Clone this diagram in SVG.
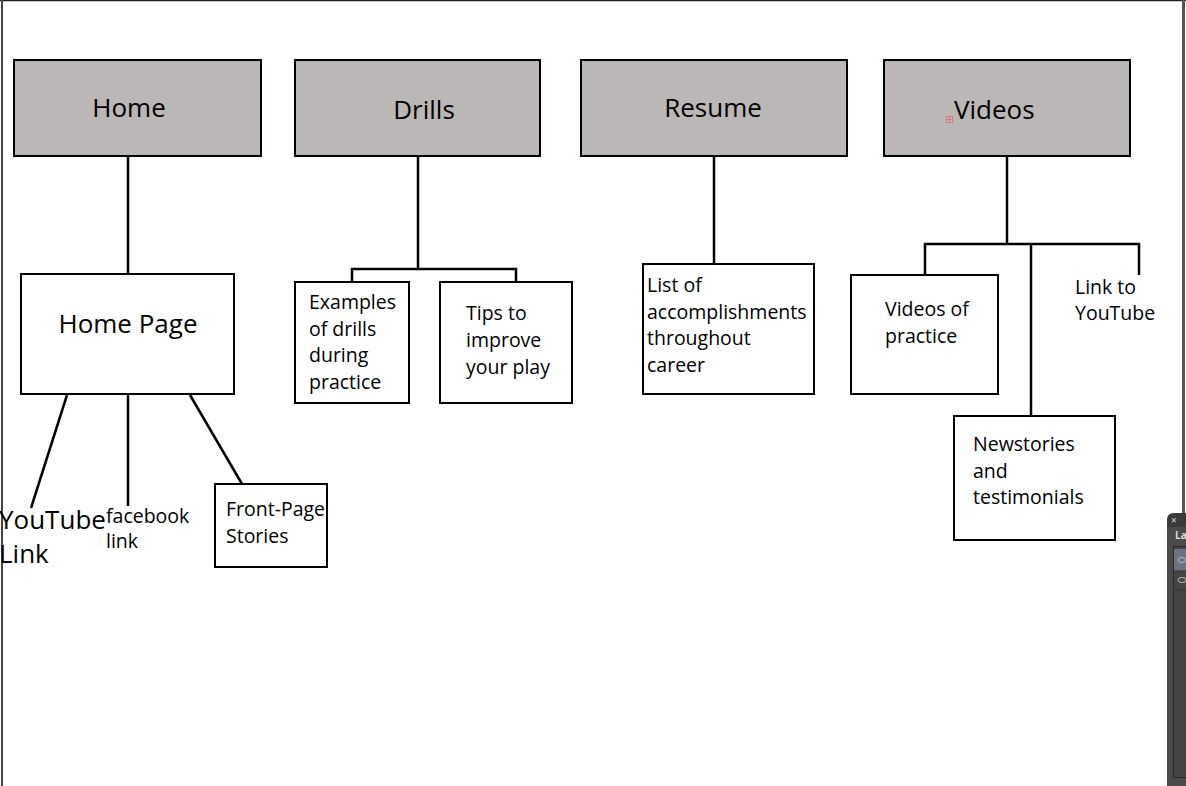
<svg xmlns="http://www.w3.org/2000/svg" width="1186" height="786" viewBox="0 0 1186 786">
<style>
.top{fill:#bbb7b6;stroke:#000;stroke-width:2}
.box{fill:#fff;stroke:#000;stroke-width:2}
.ln{stroke:#000;stroke-width:2.5;fill:none}
text{font-family:"Open Sans","Noto Sans",sans-serif;fill:#000}
.t1{font-size:26px}
.t2{font-size:19.5px}
</style>
<rect x="0" y="0" width="1186" height="786" fill="#fff"/>
<line x1="0" y1="0.5" x2="1186" y2="0.5" stroke="#222" stroke-width="1.5"/>
<line x1="2" y1="0" x2="2" y2="786" stroke="#444" stroke-width="2"/>
<rect x="1182" y="0" width="3" height="513" fill="#555"/>

<g id="connectors">
<line class="ln" x1="128" y1="156" x2="128" y2="274"/>
<line class="ln" x1="67" y1="395" x2="31" y2="508"/>
<line class="ln" x1="128" y1="395" x2="128" y2="506"/>
<line class="ln" x1="190" y1="395" x2="242" y2="484"/>
<polyline class="ln" points="418,156 418,269"/>
<polyline class="ln" points="352,282 352,269 516,269 516,282"/>
<line class="ln" x1="714" y1="156" x2="714" y2="264"/>
<line class="ln" x1="1007" y1="156" x2="1007" y2="244"/>
<polyline class="ln" points="925,275 925,244 1139,244 1139,275"/>
<line class="ln" x1="1031" y1="244" x2="1031" y2="416"/>
</g>

<g id="home"><rect class="top" x="14" y="60" width="247" height="96"/><text class="t1" x="129" y="117" text-anchor="middle">Home</text></g>
<g id="drills"><rect class="top" x="295" y="60" width="245" height="96"/><text class="t1" x="424" y="119" text-anchor="middle">Drills</text></g>
<g id="resume"><rect class="top" x="581" y="60" width="266" height="96"/><text class="t1" x="713" y="117" text-anchor="middle">Resume</text></g>
<g id="videos"><rect class="top" x="884" y="60" width="246" height="96"/><text class="t1" x="954" y="119">Videos</text>
<rect x="946.5" y="116.5" width="6" height="6" fill="none" stroke="#d77" stroke-width="1"/><path d="M949.5 117.5v4M947.5 119.5h4" stroke="#d77" stroke-width="1"/></g>

<g id="homepage"><rect class="box" x="21" y="274" width="213" height="120"/><text class="t1" x="128" y="333" text-anchor="middle">Home Page</text></g>
<g id="youtubelink"><text class="t1" x="-1" y="529">YouTube</text><text class="t1" x="-1" y="563">Link</text></g>
<g id="facebook"><text class="t2" x="106" y="523">facebook</text><text class="t2" x="106" y="548">link</text></g>
<g id="frontpage"><rect class="box" x="215" y="484" width="112" height="83"/><text class="t2" x="226" y="516">Front-Page</text><text class="t2" x="226" y="543">Stories</text></g>

<g id="examples"><rect class="box" x="295" y="282" width="114" height="121"/>
<text class="t2" x="309" y="309">Examples</text><text class="t2" x="309" y="336">of drills</text><text class="t2" x="309" y="362">during</text><text class="t2" x="309" y="389">practice</text></g>
<g id="tips"><rect class="box" x="440" y="282" width="132" height="121"/>
<text class="t2" x="466" y="320">Tips to</text><text class="t2" x="466" y="347">improve</text><text class="t2" x="466" y="374">your play</text></g>

<g id="list"><rect class="box" x="643" y="264" width="171" height="130"/>
<text class="t2" x="647" y="292">List of</text><text class="t2" x="647" y="319">accomplishments</text><text class="t2" x="647" y="345">throughout</text><text class="t2" x="647" y="372">career</text></g>

<g id="videospractice"><rect class="box" x="851" y="275" width="147" height="119"/>
<text class="t2" x="885" y="316">Videos of</text><text class="t2" x="885" y="343">practice</text></g>
<g id="linkyoutube"><text class="t2" x="1075" y="294">Link to</text><text class="t2" x="1075" y="320">YouTube</text></g>
<g id="newstories"><rect class="box" x="954" y="416" width="161" height="124"/>
<text class="t2" x="973" y="451">Newstories</text><text class="t2" x="973" y="478">and</text><text class="t2" x="973" y="504">testimonials</text></g>

<g id="panel">
<path d="M1167 520 Q1167 513 1174 513 H1186 V786 H1167 Z" fill="#3a3a3a"/>
<rect x="1167" y="527" width="19" height="259" fill="#4a4a4a"/>
<text x="1171" y="524" style="font-size:10px;fill:#ddd">×</text>
<text x="1175" y="539" style="font-size:10px;font-weight:bold;fill:#ddd">La</text>
<rect x="1173.5" y="546.5" width="13" height="231" fill="#444" stroke="#2a2a2a"/>
<rect x="1174" y="549" width="12" height="22" fill="#6b7282"/>
<line x1="1174" y1="571" x2="1186" y2="571" stroke="#333"/>
<line x1="1174" y1="590" x2="1186" y2="590" stroke="#333"/>
<ellipse cx="1182" cy="560" rx="4" ry="2.5" fill="none" stroke="#bbb"/>
<ellipse cx="1182" cy="580" rx="4" ry="2.5" fill="none" stroke="#bbb"/>
</g>
</svg>
